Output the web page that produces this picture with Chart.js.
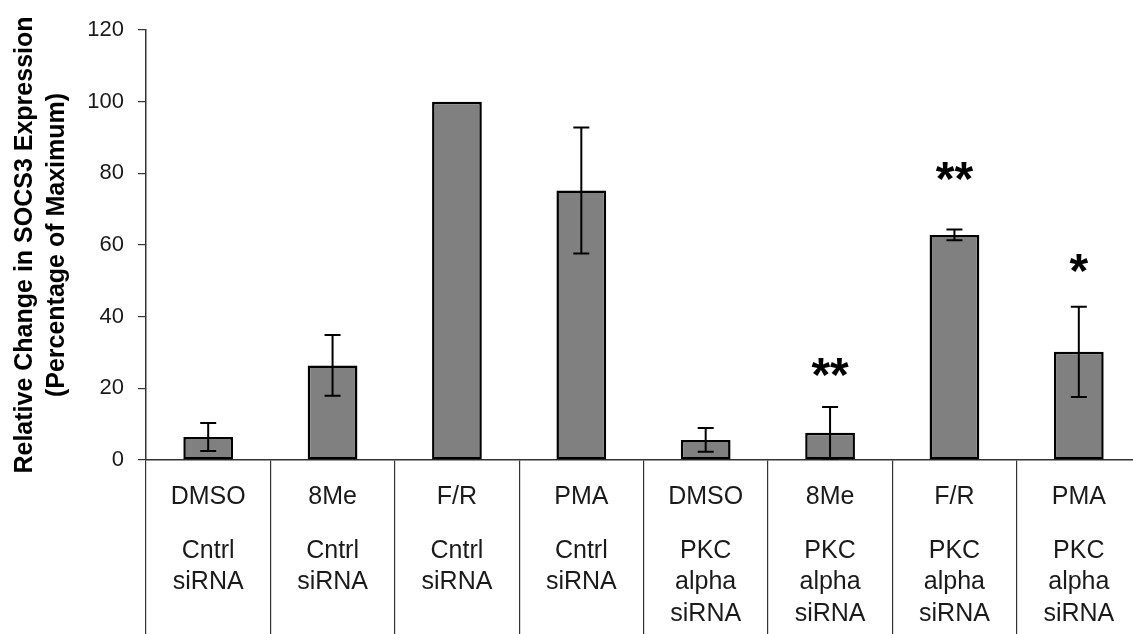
<!DOCTYPE html>
<html>
<head>
<meta charset="utf-8">
<script src="https://cdn.jsdelivr.net/npm/chart.js@4.4.1/dist/chart.umd.min.js"></script>
<style>
    html, body { margin: 0; padding: 0; background: #ffffff; overflow: hidden; }
    #wrap { width: 1145px; height: 634px; }
</style>
</head>
<body>
<div id="wrap"><canvas id="socsChart" width="1145" height="634"></canvas></div>
<script>
// Values (percentage of maximum SOCS3 expression)
const treatments = ['DMSO', '8Me', 'F/R', 'PMA', 'DMSO', '8Me', 'F/R', 'PMA'];
const sirnaLabels = [
    ['Cntrl', 'siRNA'], ['Cntrl', 'siRNA'], ['Cntrl', 'siRNA'], ['Cntrl', 'siRNA'],
    ['PKC', 'alpha', 'siRNA'], ['PKC', 'alpha', 'siRNA'], ['PKC', 'alpha', 'siRNA'], ['PKC', 'alpha', 'siRNA']
];
const meanValues = [6.4, 26.4, 100, 75.2, 5.6, 7.6, 62.8, 30.2];
const errorValues = [3.9, 8.5, 0, 17.6, 3.3, 7.2, 1.5, 12.6];
const significance = ['', '', '', '', '', '**', '**', '*'];
const starLevels = [null, null, null, null, null, 27.0, 81.6, 56.0];
const yTicks = [0, 20, 40, 60, 80, 100, 120];

const FONT = '"Liberation Sans", Arial, sans-serif';

// Error bars with caps, drawn on top of the bars
const errorBarPlugin = {
    id: 'errorBars',
    afterDatasetsDraw(chart) {
        const ctx = chart.ctx;
        const x = chart.scales.x;
        const y = chart.scales.y;
        ctx.save();
        ctx.strokeStyle = '#000000';
        ctx.lineWidth = 2;
        meanValues.forEach((m, i) => {
            const e = errorValues[i];
            if (!e) return;
            const cx = x.getPixelForValue(i);
            const yTop = y.getPixelForValue(m + e);
            const yBot = y.getPixelForValue(Math.max(0, m - e));
            ctx.beginPath();
            ctx.moveTo(cx, yTop);
            ctx.lineTo(cx, yBot);
            ctx.moveTo(cx - 8, yTop);
            ctx.lineTo(cx + 8, yTop);
            ctx.moveTo(cx - 8, yBot);
            ctx.lineTo(cx + 8, yBot);
            ctx.stroke();
        });

        // significance stars
        const starSize = 48;
        ctx.fillStyle = '#000000';
        ctx.font = 'bold ' + starSize + 'px ' + FONT;
        ctx.textAlign = 'center';
        ctx.textBaseline = 'alphabetic';
        significance.forEach((s, i) => {
            if (!s) return;
            const cx = x.getPixelForValue(i);
            const cy = y.getPixelForValue(starLevels[i]);
            ctx.fillText(s, cx, cy + starSize * 0.57);
        });
        ctx.restore();
    }
};

// Category labels in the table under the axis
const tableLabelPlugin = {
    id: 'tableLabels',
    afterDraw(chart) {
        const ctx = chart.ctx;
        const x = chart.scales.x;
        const base = chart.scales.y.getPixelForValue(0);
        ctx.save();
        ctx.fillStyle = '#1a1a1a';
        ctx.font = '25px ' + FONT;
        ctx.textAlign = 'center';
        ctx.textBaseline = 'middle';
        treatments.forEach((t, i) => {
            const cx = x.getPixelForValue(i);
            ctx.fillText(t, cx, base + 37);
            sirnaLabels[i].forEach((line, j) => {
                ctx.fillText(line, cx, base + 91 + j * 31.5);
            });
        });
        ctx.restore();
    }
};

const ctx = document.getElementById('socsChart').getContext('2d');
new Chart(ctx, {
    type: 'bar',
    data: {
        labels: treatments,
        datasets: [{
            data: meanValues,
            backgroundColor: '#808080',
            borderColor: '#000000',
            borderWidth: 2.5,
            borderSkipped: false,
            barPercentage: 0.4,
            categoryPercentage: 1.0
        }]
    },
    options: {
        responsive: false,
        animation: false,
        layout: { padding: { top: 30, left: 0, right: 4, bottom: 0 } },
        plugins: {
            legend: { display: false },
            tooltip: { enabled: false }
        },
        scales: {
            x: {
                offset: true,
                ticks: { display: false },
                grid: {
                    offset: true,
                    drawOnChartArea: false,
                    drawTicks: true,
                    tickLength: 174,
                    color: '#333333',
                    lineWidth: 1.2
                },
                border: { display: true, color: '#333333', width: 1.5 }
            },
            y: {
                min: 0,
                max: 120,
                afterBuildTicks(scale) {
                    scale.ticks = yTicks.map(v => ({ value: v }));
                },
                afterFit(scale) {
                    scale.width = 146;
                },
                ticks: {
                    color: '#1a1a1a',
                    font: { family: FONT, size: 22 },
                    padding: 14
                },
                grid: {
                    drawOnChartArea: false,
                    drawTicks: true,
                    tickLength: 8,
                    color: '#333333',
                    lineWidth: 1.2
                },
                border: { display: true, color: '#333333', width: 1.5 },
                title: {
                    display: true,
                    text: ['Relative Change in SOCS3 Expression', '(Percentage of Maximum)'],
                    color: '#000000',
                    font: { family: FONT, size: 25, weight: 'bold', lineHeight: '32px' },
                    padding: { top: 9, bottom: 0 }
                }
            }
        }
    },
    plugins: [errorBarPlugin, tableLabelPlugin]
});
</script>
</body>
</html>
